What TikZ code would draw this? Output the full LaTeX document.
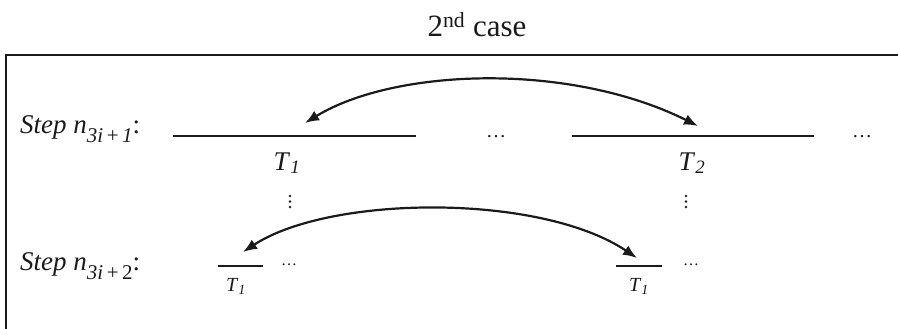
\documentclass[tikz,border=0pt]{standalone}
\usepackage{fontspec}
\setmainfont{Liberation Serif}
\usepackage{xcolor}
\usetikzlibrary{arrows.meta}
\definecolor{Ink}{HTML}{1A1A1A}
\tikzset{
  seg/.style={Ink, line width=2.8pt},
  swap/.style={Ink, line width=2.2pt, {Latex[length=14pt,width=11pt]}-{Latex[length=14pt,width=11pt]}},
  lbl/.style={Ink, inner sep=0pt, anchor=base},
  vdot/.style={Ink},
}
\newcommand{\steplabel}[1]{\textit{Step n}{\fontsize{21}{21}\selectfont\raisebox{-9pt}{#1}}:}

\begin{document}
\begin{tikzpicture}[x=1pt, y=-1pt]
        \useasboundingbox (0,0) rectangle (898,329);
        % frame, open to the right and below
        \draw[Ink, line width=2pt] (898,55) -- (6,55) -- (6,329);
        \node[lbl, anchor=base] (title) at (477,37) {\fontsize{31}{31}\selectfont 2\textsuperscript{nd} case};
        % step n_{3i+1}
        \node[lbl, anchor=base west] (stepA) at (20,134) {\fontsize{27}{27}\selectfont\steplabel{\textit{3i}\,+\,\textit{1}}};
        \coordinate (a1) at (173,136); \coordinate (a2) at (416,136);
        \coordinate (b1) at (572,136); \coordinate (b2) at (814,136);
        \draw[seg] (a1) -- (a2);
        \draw[seg] (b1) -- (b2);
        \node[lbl] (tA) at (287,170) {\fontsize{27}{27}\selectfont\textit{T}\textsubscript{\textit{1}}};
        \node[lbl] (tB) at (692,170) {\fontsize{27}{27}\selectfont\textit{T}\textsubscript{\textit{2}}};
        \node[lbl] (dotsA) at (496,137) {\fontsize{20}{20}\selectfont\dots};
        \node[lbl] (dotsB) at (862,137) {\fontsize{20}{20}\selectfont\dots};
        \coordinate (vdA) at (290,196); \coordinate (vdB) at (686,196);
        \foreach \k in {0,1,2} {
          \fill[vdot] (vdA) ++(0,\k*5.5) circle (1.3);
          \fill[vdot] (vdB) ++(0,\k*5.5) circle (1.3);
        }
        \coordinate (upL) at (305,123); \coordinate (upR) at (698,126);
        \draw[swap] (upL) .. controls (395,68) and (570,62) .. (upR);
        % step n_{3i+2}
        \node[lbl, anchor=base west] (stepB) at (20,270) {\fontsize{27}{27}\selectfont\steplabel{\textit{3i}\,+\,2}};
        \coordinate (c1) at (218,266); \coordinate (c2) at (263,266);
        \coordinate (d1) at (616,266); \coordinate (d2) at (662,266);
        \draw[seg] (c1) -- (c2);
        \draw[seg] (d1) -- (d2);
        \node[lbl] (tC) at (236,291) {\fontsize{20}{20}\selectfont\textit{T}\textsubscript{\textit{1}}};
        \node[lbl] (tD) at (639,291) {\fontsize{20}{20}\selectfont\textit{T}\textsubscript{\textit{1}}};
        \node[lbl] (dotsC) at (289,265) {\fontsize{16}{16}\selectfont\dots};
        \node[lbl] (dotsD) at (691,265) {\fontsize{16}{16}\selectfont\dots};
        \coordinate (loL) at (243,252); \coordinate (loR) at (637,258);
        \draw[swap] (loL) .. controls (330,195) and (540,193) .. (loR);
      \end{tikzpicture}
\end{document}
